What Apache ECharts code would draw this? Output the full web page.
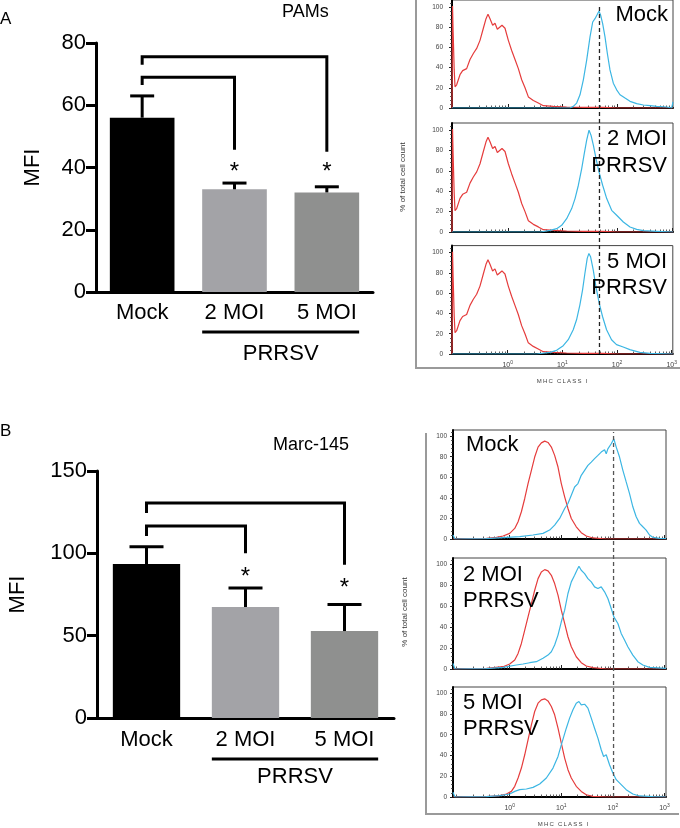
<!DOCTYPE html>
<html><head><meta charset="utf-8">
<script src="https://cdn.jsdelivr.net/npm/echarts@6/dist/echarts.min.js"></script>
<style>html,body{margin:0;padding:0;background:#fff}#c{width:680px;height:828px}</style>
</head><body><div id="c"></div>
<script>
// ---------------- DATA ----------------
const barCategories = ['Mock', '2 MOI', '5 MOI'];
const pamsMFI = [56, 33, 32];
const pamsMFIUpper = [63, 35, 33.8];
const marcMFI = [93.5, 67.4, 52.8];
const marcMFIUpper = [104, 79, 69];
// [fromCategory, toCategory, bracketLevel, fromEnd, toEnd]
const pamsBrackets = [[0, 1, 69, 66.5, 45.7], [0, 2, 75.6, 73, 45.1]];
const marcBrackets = [[0, 1, 116.6, 110.5, 100], [0, 2, 130.5, 124.5, 93]];
const pamsStars = [[1, 40], [2, 40]];
const marcStars = [[1, 88.6], [2, 82]];
const prrsvGroup = [[1, 2]];
const pamsYTicks = [0, 20, 40, 60, 80];
const marcYTicks = [0, 50, 100, 150];
// histogram axes (x in log10 of MHC class I fluorescence)
const histXTicks = [0, 1, 2, 3];
const histYTicks = [0, 20, 40, 60, 80, 100];
const pamsGate = 1.676;
const marcGate = 2.013;
// PAMs histograms: [log10 fluorescence, % of max]
const pamsIsotype = [[-1.02,0],[-1.01,101],[-1.0,77],[-0.98,38],[-0.965,21],[-0.935,23],[-0.874,33],[-0.825,37],[-0.752,39],[-0.691,48],[-0.63,54],[-0.569,59],[-0.508,67],[-0.447,79],[-0.398,88.5],[-0.362,93],[-0.325,88.5],[-0.277,82],[-0.234,84],[-0.191,78],[-0.155,79],[-0.106,82],[-0.051,79],[0.01,67],[0.071,57],[0.132,48],[0.193,39],[0.254,28],[0.315,20],[0.376,11],[0.467,7.5],[0.558,5],[0.65,2.3],[0.832,1.6],[1.076,1],[1.381,0.7],[1.746,0.7],[1.99,0],[2.478,0],[3.02,0]];
const pamsMockMHC = [[-1.02,0],[1.137,0],[1.198,1.6],[1.259,4.9],[1.32,13.1],[1.381,27.9],[1.442,47.5],[1.503,70.5],[1.552,85.2],[1.594,88.5],[1.637,92.8],[1.667,96],[1.698,91.8],[1.734,83.6],[1.777,70.5],[1.82,54],[1.868,37.7],[1.929,24.6],[1.99,18],[2.051,13.1],[2.143,9.8],[2.234,6.6],[2.356,4.3],[2.478,3],[2.6,2.3],[2.722,1.6],[2.905,1],[2.996,0],[3.02,6]];
const pams2MHC = [[-1.02,0],[0.6,0],[0.772,1.6],[0.894,3.3],[0.985,6.6],[1.076,13.1],[1.168,23],[1.229,32.8],[1.29,45.9],[1.351,62.3],[1.393,75.4],[1.442,90.2],[1.485,100],[1.521,95],[1.564,85.2],[1.613,72.1],[1.667,59],[1.734,45.9],[1.808,32.8],[1.899,21.3],[1.99,16.4],[2.112,9.8],[2.234,4.9],[2.356,2.6],[2.478,1.3],[2.722,0.7],[3.02,0]];
const pams5MHC = [[-1.02,0],[0.528,0],[0.772,1.6],[0.894,3.6],[1.015,8.2],[1.107,14.1],[1.198,23.9],[1.259,33.8],[1.32,48.5],[1.369,63.3],[1.412,79.7],[1.454,94.4],[1.485,99.3],[1.515,96],[1.564,83],[1.613,66.6],[1.673,50.2],[1.734,37],[1.808,23.9],[1.899,14.1],[1.99,9.2],[2.112,6.9],[2.234,4.3],[2.417,1.6],[2.6,0.7],[3.02,0]];
// Marc-145 histograms
const marcMockIso = [[-1.1,0],[-0.451,0.6],[-0.258,1.6],[-0.129,2.9],[0,5.5],[0.097,10.3],[0.162,16.8],[0.226,26.5],[0.291,39.4],[0.355,53.9],[0.42,66.8],[0.484,79.7],[0.549,89.4],[0.613,93.5],[0.678,95.2],[0.742,93.9],[0.807,89.4],[0.871,81.3],[0.936,70],[1.0,53.9],[1.065,41],[1.129,29.7],[1.194,20],[1.29,11.9],[1.387,6.1],[1.484,2.9],[1.613,1],[1.871,0],[3.03,0]];
const marcMockMHC = [[-1.1,4],[-1.064,0],[-0.451,0.3],[-0.129,1.3],[0.194,2.3],[0.452,3.9],[0.645,5.5],[0.774,8.7],[0.871,13.5],[0.968,20],[1.065,29.7],[1.129,34.5],[1.194,42.6],[1.258,50.6],[1.323,53.9],[1.387,61.9],[1.452,66.8],[1.516,71.6],[1.581,74.8],[1.645,78.1],[1.71,81.3],[1.774,84.5],[1.839,86.8],[1.871,82.9],[1.903,87.7],[1.968,92.6],[2.019,97.4],[2.065,89.4],[2.129,79.7],[2.194,66.8],[2.258,55.5],[2.323,44.2],[2.387,31.3],[2.452,21.6],[2.516,15.2],[2.581,11.9],[2.645,8.7],[2.71,3.9],[2.774,1.6],[2.903,0.6],[3.03,0.3]];
const marc2Iso = [[-1.1,0],[-0.451,0.6],[-0.129,2.2],[0,4.8],[0.097,8.6],[0.162,14.9],[0.226,24.4],[0.291,37.1],[0.355,49.8],[0.42,62.5],[0.484,75.2],[0.549,86.3],[0.613,92.7],[0.678,94.9],[0.742,93.7],[0.807,89.5],[0.871,81.6],[0.936,70.5],[1.0,56.2],[1.065,43.5],[1.129,30.8],[1.194,21.3],[1.29,11.7],[1.387,6],[1.484,2.9],[1.613,1.3],[1.871,0],[3.03,0]];
const marc2MHC = [[-1.1,5.4],[-1.064,0],[-0.451,0.3],[-0.129,1.6],[0.129,3.8],[0.258,4.8],[0.387,6],[0.516,7],[0.645,10.2],[0.742,13.3],[0.807,16.5],[0.871,22.9],[0.936,32.4],[1.0,45.1],[1.065,56.2],[1.129,72.1],[1.194,83.2],[1.258,89.5],[1.303,94.3],[1.342,98.1],[1.387,94.3],[1.452,91.1],[1.516,86.3],[1.581,83.2],[1.645,78.4],[1.71,76.8],[1.774,78.4],[1.839,73.7],[1.903,67.3],[1.968,57.8],[2.019,49.8],[2.097,43.5],[2.161,34],[2.226,27.6],[2.29,21.3],[2.387,13.3],[2.484,7],[2.581,3.8],[2.71,1.6],[3.03,0.6]];
const marc5Iso = [[-1.1,0],[-0.451,0.3],[-0.193,1.3],[-0.064,2.9],[0.032,5.4],[0.097,10.3],[0.162,18.3],[0.226,27.9],[0.291,40.7],[0.355,55.1],[0.42,69.6],[0.484,82.4],[0.549,90.4],[0.613,93.6],[0.678,94.6],[0.742,92.6],[0.807,87.2],[0.871,79.2],[0.936,66.3],[1.0,51.9],[1.065,37.5],[1.129,26.3],[1.194,18.3],[1.29,10.3],[1.387,5.4],[1.484,2.2],[1.613,0.6],[1.871,0],[3.03,0]];
const marc5MHC = [[-1.1,4.5],[-1.064,0],[-0.451,0.3],[-0.193,1.3],[0.0,2.9],[0.097,5.4],[0.194,7.1],[0.323,7.7],[0.452,9.3],[0.581,12.5],[0.71,18.3],[0.839,27.9],[0.936,39.1],[1.0,50.3],[1.097,66.3],[1.161,76],[1.226,84],[1.29,90.4],[1.342,92],[1.387,88.8],[1.452,89.4],[1.516,85.6],[1.581,76],[1.645,66.3],[1.71,56.7],[1.774,45.5],[1.82,39.1],[1.871,40.7],[1.935,31.1],[2.0,23.1],[2.065,16.7],[2.161,11.9],[2.258,7.1],[2.387,2.9],[2.516,1],[2.774,0.3],[3.03,0]];

// ---------------- STYLE / LAYOUT ----------------
const FONT = '"Liberation Sans", Arial, Helvetica, sans-serif';
const barColors = ['#000000', '#a3a3a7', '#8f908f'];
const RED = '#e53c3c', BLUE = '#3cb6e3';

const chart = echarts.init(document.getElementById('c'), null, {renderer: 'canvas'});

const grids = [], xAxes = [], yAxes = [], series = [];

function seg(x1, y1, x2, y2, w) {
  return {type: 'line', shape: {x1, y1, x2, y2}, style: {stroke: '#000', lineWidth: w || 3, lineCap: 'butt'}};
}

function addBarChart(g, mean, upper, yTicks, brackets, stars, capHalf, grp, barW, nameGap) {
  grids.push(g);
  const gi = grids.length - 1;
  xAxes.push({type: 'category', gridIndex: gi, data: barCategories,
    axisLine: {onZero: false, lineStyle: {color: '#000', width: 3}},
    axisTick: {alignWithLabel: true, length: 8, lineStyle: {color: '#000', width: 3}},
    axisLabel: {color: '#000', fontSize: 22, fontFamily: FONT, margin: grp.labelMargin}});
  yAxes.push({type: 'value', gridIndex: gi, min: yTicks[0], max: yTicks[yTicks.length - 1],
    interval: yTicks[1] - yTicks[0],
    axisLine: {show: true, onZero: false, lineStyle: {color: '#000', width: 3}},
    axisTick: {show: true, length: 10, lineStyle: {color: '#000', width: 3}},
    splitLine: {show: false},
    axisLabel: {color: '#000', fontSize: 22, fontFamily: FONT, margin: 10},
    name: 'MFI', nameLocation: 'middle', nameGap: nameGap,
    nameTextStyle: {color: '#000', fontSize: 22, fontFamily: FONT}});
  const ai = xAxes.length - 1;
  series.push({type: 'bar', xAxisIndex: ai, yAxisIndex: ai, barWidth: barW,
    data: mean.map((v, i) => ({value: v, itemStyle: {color: barColors[i]}}))});
  series.push({type: 'custom', xAxisIndex: ai, yAxisIndex: ai, z: 3,
    data: mean.map((v, i) => [i, v, upper[i]]), encode: {x: 0, y: [1, 2]},
    renderItem: (p, api) => {
      const i = api.value(0);
      const lo = api.coord([i, api.value(1)]), hi = api.coord([i, api.value(2)]);
      return {type: 'group', children: [seg(lo[0], lo[1], hi[0], hi[1]), seg(hi[0] - capHalf, hi[1], hi[0] + capHalf, hi[1])]};
    }});
  series.push({type: 'custom', xAxisIndex: ai, yAxisIndex: ai, z: 3,
    data: brackets, encode: {x: [0, 1], y: [2, 3, 4]},
    renderItem: (p, api) => {
      const a = api.value(0), b = api.value(1), lvl = api.value(2);
      const pts = [api.coord([a, api.value(3)]), api.coord([a, lvl]), api.coord([b, lvl]), api.coord([b, api.value(4)])];
      return {type: 'polyline', shape: {points: pts}, style: {stroke: '#000', lineWidth: 3, fill: null, lineJoin: 'miter'}};
    }});
  series.push({type: 'custom', xAxisIndex: ai, yAxisIndex: ai, z: 3,
    data: stars, encode: {x: 0, y: 1},
    renderItem: (p, api) => {
      const c = api.coord([api.value(0), api.value(1)]);
      return {type: 'text', x: c[0], y: c[1] + 5, style: {text: '*', fontSize: 24, fontFamily: FONT, fill: '#000', align: 'center', verticalAlign: 'middle'}};
    }});
  series.push({type: 'custom', xAxisIndex: ai, yAxisIndex: ai, z: 3,
    data: prrsvGroup, encode: {x: [0, 1]},
    renderItem: (p, api) => {
      const a = api.coord([api.value(0), 0]), b = api.coord([api.value(1), 0]);
      const half = api.size([1, 0])[0] * parseFloat(barW) / 200;
      const y = a[1] + grp.lineGap;
      return {type: 'group', children: [
        seg(a[0] - half, y, b[0] + half, y),
        {type: 'text', x: (a[0] + b[0]) / 2, y: y + grp.textGap,
          style: {text: 'PRRSV', fontSize: 22, fontFamily: FONT, fill: '#000', align: 'center', verticalAlign: 'middle'}}
      ]};
    }});
}

addBarChart({left: 96, top: 43, width: 277, height: 249}, pamsMFI, pamsMFIUpper, pamsYTicks,
  pamsBrackets, pamsStars, 12, {labelMargin: 10, lineGap: 40, textGap: 22}, '70%', 52);
addBarChart({left: 97, top: 471, width: 297, height: 247}, marcMFI, marcMFIUpper, marcYTicks,
  marcBrackets, marcStars, 17, {labelMargin: 11, lineGap: 41, textGap: 18}, '68%', 68);

// ---------- histograms ----------
const minorX = [];
for (let d = -2; d < 3; d++) for (let k = 2; k <= 9; k++) minorX.push(d + Math.log10(k));
const minorY = [];
for (let v = 4; v < 106; v += 4) if (v % 20 !== 0) minorY.push(v);

const histPanels = [
  {g: {left: 452, top: 0, width: 221, height: 108}, xr: [-1.02, 3.02], ymax: 107, red: pamsIsotype, blue: pamsMockMHC, xl: false, ym: 9},
  {g: {left: 452, top: 123, width: 221, height: 109}, xr: [-1.02, 3.02], ymax: 107, red: pamsIsotype, blue: pams2MHC, xl: false, ym: 9},
  {g: {left: 452, top: 245.6, width: 221, height: 108.4}, xr: [-1.02, 3.02], ymax: 107, red: pamsIsotype, blue: pams5MHC, xl: true, ym: 9},
  {g: {left: 453, top: 430, width: 213, height: 109}, xr: [-1.1, 3.03], ymax: 106, red: marcMockIso, blue: marcMockMHC, xl: false, ym: 6},
  {g: {left: 453, top: 558, width: 213, height: 111}, xr: [-1.1, 3.03], ymax: 106, red: marc2Iso, blue: marc2MHC, xl: false, ym: 6},
  {g: {left: 453, top: 687, width: 213, height: 110}, xr: [-1.1, 3.03], ymax: 106, red: marc5Iso, blue: marc5MHC, xl: true, ym: 6}
];

histPanels.forEach(hp => {
  grids.push(Object.assign({show: true, borderColor: '#444', borderWidth: 1}, hp.g));
  const gi = grids.length - 1;
  const xi = xAxes.length;
  xAxes.push({type: 'value', gridIndex: gi, min: hp.xr[0], max: hp.xr[1], position: 'bottom',
    axisLine: {onZero: false, lineStyle: {color: '#000', width: 2}},
    axisTick: {show: true, inside: true, length: 4, customValues: histXTicks, lineStyle: {color: '#222', width: 1}},
    splitLine: {show: false},
    axisLabel: {show: hp.xl, customValues: histXTicks, margin: 6, color: '#444',
      formatter: v => '{b|10}{s|' + v + '}',
      rich: {b: {fontSize: 7, fontFamily: FONT, color: '#444'}, s: {fontSize: 5, fontFamily: FONT, color: '#444', padding: [0, 0, 5, 0]}}}});
  xAxes.push({type: 'value', gridIndex: gi, min: hp.xr[0], max: hp.xr[1], position: 'bottom',
    axisLine: {show: false, onZero: false}, splitLine: {show: false}, axisLabel: {show: false},
    axisTick: {show: true, inside: true, length: 2.5, customValues: minorX.filter(v => v > hp.xr[0] && v < hp.xr[1]), lineStyle: {color: '#333', width: 0.8}}});
  const yi = yAxes.length;
  yAxes.push({type: 'value', gridIndex: gi, min: 0, max: hp.ymax, position: 'left',
    axisLine: {show: true, onZero: false, lineStyle: {color: '#000', width: 2}},
    axisTick: {show: true, length: 3, customValues: histYTicks, lineStyle: {color: '#222', width: 1}},
    splitLine: {show: false},
    axisLabel: {customValues: histYTicks, fontSize: 6.5, fontFamily: FONT, color: '#444', margin: hp.ym}});
  yAxes.push({type: 'value', gridIndex: gi, min: 0, max: hp.ymax, position: 'left',
    axisLine: {show: false, onZero: false}, splitLine: {show: false}, axisLabel: {show: false},
    axisTick: {show: true, length: 2, customValues: minorY.filter(v => v < hp.ymax), lineStyle: {color: '#333', width: 0.8}}});
  series.push({type: 'line', xAxisIndex: xi, yAxisIndex: yi, data: hp.red, showSymbol: false, symbol: 'none',
    lineStyle: {color: RED, width: 1.2}, z: 4});
  series.push({type: 'line', xAxisIndex: xi, yAxisIndex: yi, data: hp.blue, showSymbol: false, symbol: 'none',
    lineStyle: {color: BLUE, width: 1.2}, z: 5});
});

// gate (dashed) lines spanning all three stacked panels
[{g: {left: 452, top: 5, width: 221, height: 349}, xr: [-1.02, 3.02], gate: pamsGate, color: '#222'},
 {g: {left: 453, top: 432, width: 213, height: 365}, xr: [-1.1, 3.03], gate: marcGate, color: '#555'}].forEach(o => {
  grids.push(o.g);
  const gi = grids.length - 1;
  const xi = xAxes.length, yi = yAxes.length;
  xAxes.push({type: 'value', gridIndex: gi, min: o.xr[0], max: o.xr[1], show: false});
  yAxes.push({type: 'value', gridIndex: gi, min: 0, max: 1, show: false});
  series.push({type: 'line', xAxisIndex: xi, yAxisIndex: yi, data: [[o.gate, 0], [o.gate, 1]], showSymbol: false, symbol: 'none',
    lineStyle: {color: o.color, width: 1.3, type: [4, 3]}, z: 6});
});

function txt(x, y, text, size, opts) {
  return Object.assign({type: 'text', x, y, z: 10,
    style: Object.assign({text, fontSize: size, fontFamily: FONT, fill: '#000', align: 'left', verticalAlign: 'middle'}, opts || {})});
}
function gline(x1, y1, x2, y2, color, w) {
  return {type: 'line', z: 0, shape: {x1, y1, x2, y2}, style: {stroke: color, lineWidth: w}};
}

const NARROW = '"Liberation Sans Narrow", "Liberation Sans", sans-serif';
const MHC = 'M\u2009H\u2009C\u2002\u2009C\u2009L\u2009A\u2009S\u2009S\u2002\u2009I';
const graphics = [
  txt(0, 19, 'A', 17), txt(0, 431, 'B', 17),
  txt(282, 12, 'PAMs', 18), txt(273, 445, 'Marc-145', 18),
  // histogram frames
  gline(416, 0, 416, 368, '#9a9a9a', 2), gline(415, 368, 680, 368, '#9a9a9a', 2),
  gline(426, 433, 426, 814, '#9a9a9a', 2), gline(425, 814, 679, 814, '#9a9a9a', 2),
  // panel labels
  txt(668, 15, 'Mock', 22, {align: 'right'}),
  txt(667, 139, '2 MOI', 22, {align: 'right'}), txt(667, 166, 'PRRSV', 22, {align: 'right'}),
  txt(667, 262, '5 MOI', 22, {align: 'right'}), txt(667, 288, 'PRRSV', 22, {align: 'right'}),
  txt(466, 445, 'Mock', 22),
  txt(463, 575, '2 MOI', 22), txt(463, 601, 'PRRSV', 22),
  txt(463, 703, '5 MOI', 22), txt(463, 729, 'PRRSV', 22),
  // axis titles of histograms
  Object.assign(txt(403, 177, '% of total cell count', 8, {align: 'center', fill: '#333', fontFamily: NARROW}), {rotation: Math.PI / 2}),
  Object.assign(txt(405, 612, '% of total cell count', 8, {align: 'center', fill: '#333', fontFamily: NARROW}), {rotation: Math.PI / 2}),
  txt(562, 381, MHC, 6, {align: 'center', fill: '#444'}),
  txt(563, 824, MHC, 6, {align: 'center', fill: '#444'})
];

chart.setOption({
  animation: false,
  backgroundColor: '#fff',
  grid: grids,
  xAxis: xAxes,
  yAxis: yAxes,
  series: series,
  graphic: graphics
});
</script></body></html>
